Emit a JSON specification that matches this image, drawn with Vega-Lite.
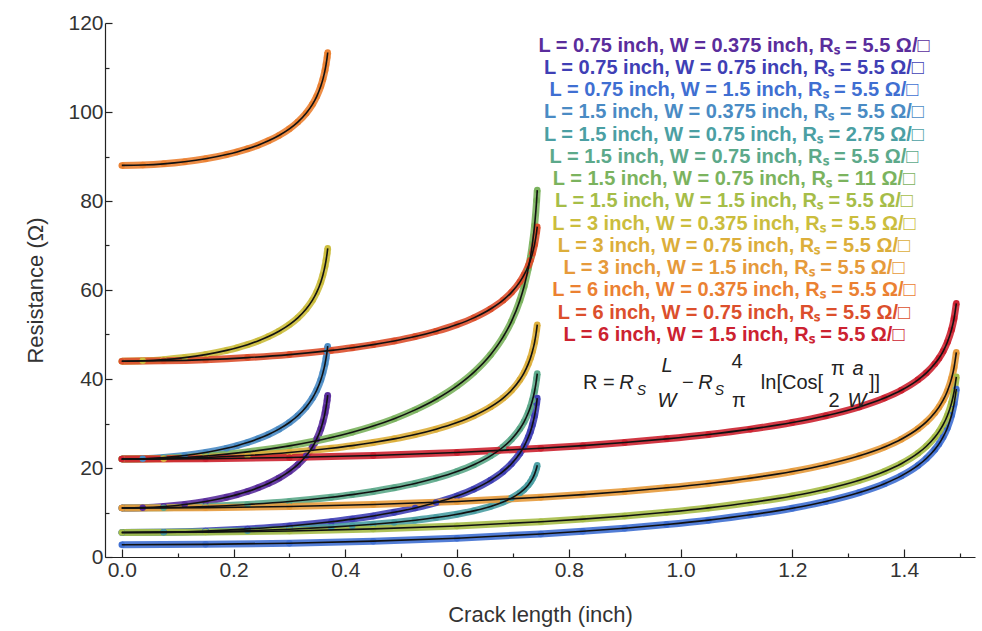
{
"$schema":"https://vega.github.io/schema/vega-lite/v6.json",
"width":870,"height":534,
"autosize":"none",
"padding":{"left":105,"top":23,"right":7,"bottom":74},
"background":"white",
"datasets":{
"pts":[
{"s":1,"a":0,"r":11},{"s":1,"a":0.0375,"r":11.09},{"s":1,"a":0.075,"r":11.35},{"s":1,"a":0.1125,"r":11.81},{"s":1,"a":0.15,"r":12.48},{"s":1,"a":0.1875,"r":13.43},{"s":1,"a":0.2063,"r":14.02},{"s":1,"a":0.225,"r":14.72},{"s":1,"a":0.2438,"r":15.55},{"s":1,"a":0.2625,"r":16.53},{"s":1,"a":0.2813,"r":17.73},{"s":1,"a":0.3,"r":19.22},{"s":1,"a":0.315,"r":20.74},{"s":1,"a":0.33,"r":22.73},{"s":1,"a":0.3413,"r":24.72},{"s":1,"a":0.3488,"r":26.47},{"s":1,"a":0.3563,"r":28.82},{"s":1,"a":0.36,"r":30.38},{"s":1,"a":0.3638,"r":32.4},{"s":1,"a":0.3656,"r":33.67},{"s":1,"a":0.3675,"r":35.23},{"s":1,"a":0.3686,"r":36.37},
{"s":2,"a":0,"r":5.5},{"s":2,"a":0.075,"r":5.59},{"s":2,"a":0.15,"r":5.85},{"s":2,"a":0.225,"r":6.31},{"s":2,"a":0.3,"r":6.98},{"s":2,"a":0.375,"r":7.93},{"s":2,"a":0.4125,"r":8.52},{"s":2,"a":0.45,"r":9.22},{"s":2,"a":0.4875,"r":10.05},{"s":2,"a":0.525,"r":11.03},{"s":2,"a":0.5625,"r":12.23},{"s":2,"a":0.6,"r":13.72},{"s":2,"a":0.63,"r":15.24},{"s":2,"a":0.66,"r":17.23},{"s":2,"a":0.6825,"r":19.22},{"s":2,"a":0.6975,"r":20.97},{"s":2,"a":0.7125,"r":23.32},{"s":2,"a":0.72,"r":24.88},{"s":2,"a":0.7275,"r":26.9},{"s":2,"a":0.7313,"r":28.17},{"s":2,"a":0.735,"r":29.73},{"s":2,"a":0.7388,"r":31.75},{"s":2,"a":0.7425,"r":34.59},{"s":2,"a":0.7436,"r":35.72},
{"s":3,"a":0,"r":2.75},{"s":3,"a":0.15,"r":2.84},{"s":3,"a":0.3,"r":3.1},{"s":3,"a":0.45,"r":3.56},{"s":3,"a":0.6,"r":4.23},{"s":3,"a":0.75,"r":5.18},{"s":3,"a":0.825,"r":5.77},{"s":3,"a":0.9,"r":6.47},{"s":3,"a":0.975,"r":7.3},{"s":3,"a":1.05,"r":8.28},{"s":3,"a":1.125,"r":9.48},{"s":3,"a":1.2,"r":10.97},{"s":3,"a":1.26,"r":12.49},{"s":3,"a":1.32,"r":14.48},{"s":3,"a":1.365,"r":16.47},{"s":3,"a":1.395,"r":18.22},{"s":3,"a":1.425,"r":20.57},{"s":3,"a":1.44,"r":22.13},{"s":3,"a":1.455,"r":24.15},{"s":3,"a":1.4625,"r":25.42},{"s":3,"a":1.47,"r":26.98},{"s":3,"a":1.4775,"r":29},{"s":3,"a":1.485,"r":31.84},{"s":3,"a":1.4895,"r":34.33},{"s":3,"a":1.4936,"r":37.75},
{"s":4,"a":0,"r":22},{"s":4,"a":0.0375,"r":22.09},{"s":4,"a":0.075,"r":22.35},{"s":4,"a":0.1125,"r":22.81},{"s":4,"a":0.15,"r":23.48},{"s":4,"a":0.1875,"r":24.43},{"s":4,"a":0.2063,"r":25.02},{"s":4,"a":0.225,"r":25.72},{"s":4,"a":0.2438,"r":26.55},{"s":4,"a":0.2625,"r":27.53},{"s":4,"a":0.2813,"r":28.73},{"s":4,"a":0.3,"r":30.22},{"s":4,"a":0.315,"r":31.74},{"s":4,"a":0.33,"r":33.73},{"s":4,"a":0.3413,"r":35.72},{"s":4,"a":0.3488,"r":37.47},{"s":4,"a":0.3563,"r":39.82},{"s":4,"a":0.36,"r":41.38},{"s":4,"a":0.3638,"r":43.4},{"s":4,"a":0.3656,"r":44.67},{"s":4,"a":0.3675,"r":46.23},{"s":4,"a":0.3686,"r":47.37},
{"s":5,"a":0,"r":5.5},{"s":5,"a":0.075,"r":5.54},{"s":5,"a":0.15,"r":5.68},{"s":5,"a":0.225,"r":5.9},{"s":5,"a":0.3,"r":6.24},{"s":5,"a":0.375,"r":6.71},{"s":5,"a":0.4125,"r":7.01},{"s":5,"a":0.45,"r":7.36},{"s":5,"a":0.4875,"r":7.77},{"s":5,"a":0.525,"r":8.27},{"s":5,"a":0.5625,"r":8.86},{"s":5,"a":0.6,"r":9.61},{"s":5,"a":0.63,"r":10.37},{"s":5,"a":0.66,"r":11.36},{"s":5,"a":0.6825,"r":12.36},{"s":5,"a":0.6975,"r":13.24},{"s":5,"a":0.7125,"r":14.41},{"s":5,"a":0.72,"r":15.19},{"s":5,"a":0.7275,"r":16.2},{"s":5,"a":0.7313,"r":16.84},{"s":5,"a":0.735,"r":17.62},{"s":5,"a":0.7388,"r":18.62},{"s":5,"a":0.7425,"r":20.04},{"s":5,"a":0.7436,"r":20.61},
{"s":6,"a":0,"r":11},{"s":6,"a":0.075,"r":11.09},{"s":6,"a":0.15,"r":11.35},{"s":6,"a":0.225,"r":11.81},{"s":6,"a":0.3,"r":12.48},{"s":6,"a":0.375,"r":13.43},{"s":6,"a":0.4125,"r":14.02},{"s":6,"a":0.45,"r":14.72},{"s":6,"a":0.4875,"r":15.55},{"s":6,"a":0.525,"r":16.53},{"s":6,"a":0.5625,"r":17.73},{"s":6,"a":0.6,"r":19.22},{"s":6,"a":0.63,"r":20.74},{"s":6,"a":0.66,"r":22.73},{"s":6,"a":0.6825,"r":24.72},{"s":6,"a":0.6975,"r":26.47},{"s":6,"a":0.7125,"r":28.82},{"s":6,"a":0.72,"r":30.38},{"s":6,"a":0.7275,"r":32.4},{"s":6,"a":0.7313,"r":33.67},{"s":6,"a":0.735,"r":35.23},{"s":6,"a":0.7388,"r":37.25},{"s":6,"a":0.7425,"r":40.09},{"s":6,"a":0.7436,"r":41.22},
{"s":7,"a":0,"r":22},{"s":7,"a":0.075,"r":22.17},{"s":7,"a":0.15,"r":22.7},{"s":7,"a":0.225,"r":23.62},{"s":7,"a":0.3,"r":24.97},{"s":7,"a":0.375,"r":26.85},{"s":7,"a":0.4125,"r":28.05},{"s":7,"a":0.45,"r":29.44},{"s":7,"a":0.4875,"r":31.09},{"s":7,"a":0.525,"r":33.06},{"s":7,"a":0.5625,"r":35.45},{"s":7,"a":0.6,"r":38.45},{"s":7,"a":0.63,"r":41.49},{"s":7,"a":0.66,"r":45.45},{"s":7,"a":0.6825,"r":49.45},{"s":7,"a":0.6975,"r":52.95},{"s":7,"a":0.7125,"r":57.65},{"s":7,"a":0.72,"r":60.77},{"s":7,"a":0.7275,"r":64.79},{"s":7,"a":0.7313,"r":67.34},{"s":7,"a":0.735,"r":70.47},{"s":7,"a":0.7388,"r":74.5},{"s":7,"a":0.7425,"r":80.17},{"s":7,"a":0.7436,"r":82.45},
{"s":8,"a":0,"r":5.5},{"s":8,"a":0.15,"r":5.59},{"s":8,"a":0.3,"r":5.85},{"s":8,"a":0.45,"r":6.31},{"s":8,"a":0.6,"r":6.98},{"s":8,"a":0.75,"r":7.93},{"s":8,"a":0.825,"r":8.52},{"s":8,"a":0.9,"r":9.22},{"s":8,"a":0.975,"r":10.05},{"s":8,"a":1.05,"r":11.03},{"s":8,"a":1.125,"r":12.23},{"s":8,"a":1.2,"r":13.72},{"s":8,"a":1.26,"r":15.24},{"s":8,"a":1.32,"r":17.23},{"s":8,"a":1.365,"r":19.22},{"s":8,"a":1.395,"r":20.97},{"s":8,"a":1.425,"r":23.32},{"s":8,"a":1.44,"r":24.88},{"s":8,"a":1.455,"r":26.9},{"s":8,"a":1.4625,"r":28.17},{"s":8,"a":1.47,"r":29.73},{"s":8,"a":1.4775,"r":31.75},{"s":8,"a":1.485,"r":34.59},{"s":8,"a":1.4895,"r":37.08},{"s":8,"a":1.4936,"r":40.5},
{"s":9,"a":0,"r":44},{"s":9,"a":0.0375,"r":44.09},{"s":9,"a":0.075,"r":44.35},{"s":9,"a":0.1125,"r":44.81},{"s":9,"a":0.15,"r":45.48},{"s":9,"a":0.1875,"r":46.43},{"s":9,"a":0.2063,"r":47.02},{"s":9,"a":0.225,"r":47.72},{"s":9,"a":0.2438,"r":48.55},{"s":9,"a":0.2625,"r":49.53},{"s":9,"a":0.2813,"r":50.73},{"s":9,"a":0.3,"r":52.22},{"s":9,"a":0.315,"r":53.74},{"s":9,"a":0.33,"r":55.73},{"s":9,"a":0.3413,"r":57.72},{"s":9,"a":0.3488,"r":59.47},{"s":9,"a":0.3563,"r":61.82},{"s":9,"a":0.36,"r":63.38},{"s":9,"a":0.3638,"r":65.4},{"s":9,"a":0.3656,"r":66.67},{"s":9,"a":0.3675,"r":68.23},{"s":9,"a":0.3686,"r":69.37},
{"s":10,"a":0,"r":22},{"s":10,"a":0.075,"r":22.09},{"s":10,"a":0.15,"r":22.35},{"s":10,"a":0.225,"r":22.81},{"s":10,"a":0.3,"r":23.48},{"s":10,"a":0.375,"r":24.43},{"s":10,"a":0.4125,"r":25.02},{"s":10,"a":0.45,"r":25.72},{"s":10,"a":0.4875,"r":26.55},{"s":10,"a":0.525,"r":27.53},{"s":10,"a":0.5625,"r":28.73},{"s":10,"a":0.6,"r":30.22},{"s":10,"a":0.63,"r":31.74},{"s":10,"a":0.66,"r":33.73},{"s":10,"a":0.6825,"r":35.72},{"s":10,"a":0.6975,"r":37.47},{"s":10,"a":0.7125,"r":39.82},{"s":10,"a":0.72,"r":41.38},{"s":10,"a":0.7275,"r":43.4},{"s":10,"a":0.7313,"r":44.67},{"s":10,"a":0.735,"r":46.23},{"s":10,"a":0.7388,"r":48.25},{"s":10,"a":0.7425,"r":51.09},{"s":10,"a":0.7436,"r":52.22},
{"s":11,"a":0,"r":11},{"s":11,"a":0.15,"r":11.09},{"s":11,"a":0.3,"r":11.35},{"s":11,"a":0.45,"r":11.81},{"s":11,"a":0.6,"r":12.48},{"s":11,"a":0.75,"r":13.43},{"s":11,"a":0.825,"r":14.02},{"s":11,"a":0.9,"r":14.72},{"s":11,"a":0.975,"r":15.55},{"s":11,"a":1.05,"r":16.53},{"s":11,"a":1.125,"r":17.73},{"s":11,"a":1.2,"r":19.22},{"s":11,"a":1.26,"r":20.74},{"s":11,"a":1.32,"r":22.73},{"s":11,"a":1.365,"r":24.72},{"s":11,"a":1.395,"r":26.47},{"s":11,"a":1.425,"r":28.82},{"s":11,"a":1.44,"r":30.38},{"s":11,"a":1.455,"r":32.4},{"s":11,"a":1.4625,"r":33.67},{"s":11,"a":1.47,"r":35.23},{"s":11,"a":1.4775,"r":37.25},{"s":11,"a":1.485,"r":40.09},{"s":11,"a":1.4895,"r":42.58},{"s":11,"a":1.4936,"r":46},
{"s":12,"a":0,"r":88},{"s":12,"a":0.0375,"r":88.09},{"s":12,"a":0.075,"r":88.35},{"s":12,"a":0.1125,"r":88.81},{"s":12,"a":0.15,"r":89.48},{"s":12,"a":0.1875,"r":90.43},{"s":12,"a":0.2063,"r":91.02},{"s":12,"a":0.225,"r":91.72},{"s":12,"a":0.2438,"r":92.55},{"s":12,"a":0.2625,"r":93.53},{"s":12,"a":0.2813,"r":94.73},{"s":12,"a":0.3,"r":96.22},{"s":12,"a":0.315,"r":97.74},{"s":12,"a":0.33,"r":99.73},{"s":12,"a":0.3413,"r":101.72},{"s":12,"a":0.3488,"r":103.47},{"s":12,"a":0.3563,"r":105.82},{"s":12,"a":0.36,"r":107.38},{"s":12,"a":0.3638,"r":109.4},{"s":12,"a":0.3656,"r":110.67},{"s":12,"a":0.3675,"r":112.23},{"s":12,"a":0.3686,"r":113.37},
{"s":13,"a":0,"r":44},{"s":13,"a":0.075,"r":44.09},{"s":13,"a":0.15,"r":44.35},{"s":13,"a":0.225,"r":44.81},{"s":13,"a":0.3,"r":45.48},{"s":13,"a":0.375,"r":46.43},{"s":13,"a":0.4125,"r":47.02},{"s":13,"a":0.45,"r":47.72},{"s":13,"a":0.4875,"r":48.55},{"s":13,"a":0.525,"r":49.53},{"s":13,"a":0.5625,"r":50.73},{"s":13,"a":0.6,"r":52.22},{"s":13,"a":0.63,"r":53.74},{"s":13,"a":0.66,"r":55.73},{"s":13,"a":0.6825,"r":57.72},{"s":13,"a":0.6975,"r":59.47},{"s":13,"a":0.7125,"r":61.82},{"s":13,"a":0.72,"r":63.38},{"s":13,"a":0.7275,"r":65.4},{"s":13,"a":0.7313,"r":66.67},{"s":13,"a":0.735,"r":68.23},{"s":13,"a":0.7388,"r":70.25},{"s":13,"a":0.7425,"r":73.09},{"s":13,"a":0.7436,"r":74.22},
{"s":14,"a":0,"r":22},{"s":14,"a":0.15,"r":22.09},{"s":14,"a":0.3,"r":22.35},{"s":14,"a":0.45,"r":22.81},{"s":14,"a":0.6,"r":23.48},{"s":14,"a":0.75,"r":24.43},{"s":14,"a":0.825,"r":25.02},{"s":14,"a":0.9,"r":25.72},{"s":14,"a":0.975,"r":26.55},{"s":14,"a":1.05,"r":27.53},{"s":14,"a":1.125,"r":28.73},{"s":14,"a":1.2,"r":30.22},{"s":14,"a":1.26,"r":31.74},{"s":14,"a":1.32,"r":33.73},{"s":14,"a":1.365,"r":35.72},{"s":14,"a":1.395,"r":37.47},{"s":14,"a":1.425,"r":39.82},{"s":14,"a":1.44,"r":41.38},{"s":14,"a":1.455,"r":43.4},{"s":14,"a":1.4625,"r":44.67},{"s":14,"a":1.47,"r":46.23},{"s":14,"a":1.4775,"r":48.25},{"s":14,"a":1.485,"r":51.09},{"s":14,"a":1.4895,"r":53.58},{"s":14,"a":1.4936,"r":57}
],
"leg":[
{"s":1,"t":"L = 0.75 inch, W = 0.375 inch, Rₛ = 5.5 Ω/□","a":1.0956,"r":114.9},
{"s":2,"t":"L = 0.75 inch, W = 0.75 inch, Rₛ = 5.5 Ω/□","a":1.0956,"r":109.9},
{"s":3,"t":"L = 0.75 inch, W = 1.5 inch, Rₛ = 5.5 Ω/□","a":1.0956,"r":104.9},
{"s":4,"t":"L = 1.5 inch, W = 0.375 inch, Rₛ = 5.5 Ω/□","a":1.0956,"r":99.9},
{"s":5,"t":"L = 1.5 inch, W = 0.75 inch, Rₛ = 2.75 Ω/□","a":1.0956,"r":94.9},
{"s":6,"t":"L = 1.5 inch, W = 0.75 inch, Rₛ = 5.5 Ω/□","a":1.0956,"r":89.9},
{"s":7,"t":"L = 1.5 inch, W = 0.75 inch, Rₛ = 11 Ω/□","a":1.0956,"r":84.9},
{"s":8,"t":"L = 1.5 inch, W = 1.5 inch, Rₛ = 5.5 Ω/□","a":1.0956,"r":79.9},
{"s":9,"t":"L = 3 inch, W = 0.375 inch, Rₛ = 5.5 Ω/□","a":1.0956,"r":74.9},
{"s":10,"t":"L = 3 inch, W = 0.75 inch, Rₛ = 5.5 Ω/□","a":1.0956,"r":69.9},
{"s":11,"t":"L = 3 inch, W = 1.5 inch, Rₛ = 5.5 Ω/□","a":1.0956,"r":64.9},
{"s":12,"t":"L = 6 inch, W = 0.375 inch, Rₛ = 5.5 Ω/□","a":1.0956,"r":59.9},
{"s":13,"t":"L = 6 inch, W = 0.75 inch, Rₛ = 5.5 Ω/□","a":1.0956,"r":54.9},
{"s":14,"t":"L = 6 inch, W = 1.5 inch, Rₛ = 5.5 Ω/□","a":1.0956,"r":49.9}
],
"eqn":[
{"t":"R =","a":0.8539,"r":39.1},{"t":"−","a":1.0132,"r":39.1},{"t":"4","a":1.101,"r":43.8},{"t":"π","a":1.1046,"r":35.1},{"t":"ln[Cos[","a":1.1994,"r":39.1},{"t":"π","a":1.2818,"r":42.2},{"t":"2","a":1.2746,"r":35.1},{"t":"]]","a":1.3471,"r":39.1}
],
"eqi":[
{"t":"R","a":0.9032,"r":39.1},{"t":"L","a":0.9757,"r":42.9},{"t":"W","a":0.9757,"r":35.1},{"t":"R","a":1.0446,"r":39.1},{"t":"a","a":1.3176,"r":42.2},{"t":"W","a":1.3158,"r":35.1}
],
"eqs":[
{"t":"S","a":0.93,"r":37.3},{"t":"S","a":1.0696,"r":37.3}
]
},
"layer":[
{"data":{"name":"pts"},
 "mark":{"type":"line","strokeWidth":7,"interpolate":"monotone","opacity":0.9},
 "encoding":{
  "x":{"field":"a","type":"quantitative","scale":{"domain":[-0.03,1.527],"nice":false,"zero":false},
   "axis":{"title":"Crack length (inch)","grid":false,
    "values":[0,0.05,0.1,0.15,0.2,0.25,0.3,0.35,0.4,0.45,0.5,0.55,0.6,0.65,0.7,0.75,0.8,0.85,0.9,0.95,1,1.05,1.1,1.15,1.2,1.25,1.3,1.35,1.4,1.45,1.5],
    "tickSize":{"condition":{"test":"abs(datum.value*5-round(datum.value*5))<0.001","value":-8},"value":-4},
    "labelExpr":"abs(datum.value*5-round(datum.value*5))<0.001 ? format(datum.value,'.1f') : ''",
    "labelPadding":10,"labelFlush":false,"labelOverlap":false,"titlePadding":20}},
  "y":{"field":"r","type":"quantitative","scale":{"domain":[0,120],"nice":false,"zero":false},
   "axis":{"title":"Resistance (Ω)","grid":false,
    "values":[0,5,10,15,20,25,30,35,40,45,50,55,60,65,70,75,80,85,90,95,100,105,110,115,120],
    "tickSize":{"condition":{"test":"datum.value%20==0","value":-7},"value":-4},
    "labelExpr":"datum.value%20==0 ? format(datum.value,'d') : ''",
    "labelPadding":9,"labelFlush":false,"labelOverlap":false,"titlePadding":20}},
  "color":{"field":"s","type":"nominal","legend":null,
   "scale":{"domain":[1,2,3,4,5,6,7,8,9,10,11,12,13,14],
    "range":["#5a2d9c","#3f3fb5","#3f6fd2","#4a8bc4","#4b9fa3","#5ca98a","#7bb35e","#a6bd48","#cbbd3d","#dcae3a","#e69a3b","#eb8132","#dc4f2c","#cc2230"]}}
 }},
{"data":{"name":"pts"},
 "mark":{"type":"point","filled":true,"size":42,"opacity":1},
 "encoding":{
  "x":{"field":"a","type":"quantitative"},
  "y":{"field":"r","type":"quantitative"},
  "color":{"field":"s","type":"nominal","legend":null}
 }},
{"data":{"name":"pts"},
 "mark":{"type":"line","color":"#111","strokeWidth":1.6,"interpolate":"monotone"},
 "encoding":{
  "x":{"field":"a","type":"quantitative"},
  "y":{"field":"r","type":"quantitative"},
  "detail":{"field":"s","type":"nominal"}
 }},
{"data":{"name":"leg"},
 "mark":{"type":"text","font":"Liberation Sans","fontWeight":"bold","fontSize":20,"align":"center","baseline":"middle"},
 "encoding":{
  "x":{"field":"a","type":"quantitative"},
  "y":{"field":"r","type":"quantitative"},
  "text":{"field":"t"},
  "color":{"field":"s","type":"nominal","legend":null}
 }},
{"data":{"name":"eqn"},
 "mark":{"type":"text","font":"Liberation Sans","fontSize":20,"align":"center","baseline":"middle","color":"#222"},
 "encoding":{
  "x":{"field":"a","type":"quantitative"},
  "y":{"field":"r","type":"quantitative"},
  "text":{"field":"t"}
 }},
{"data":{"name":"eqi"},
 "mark":{"type":"text","font":"Liberation Sans","fontSize":20,"fontStyle":"italic","align":"center","baseline":"middle","color":"#222"},
 "encoding":{
  "x":{"field":"a","type":"quantitative"},
  "y":{"field":"r","type":"quantitative"},
  "text":{"field":"t"}
 }},
{"data":{"name":"eqs"},
 "mark":{"type":"text","font":"Liberation Sans","fontSize":14,"fontStyle":"italic","align":"center","baseline":"middle","color":"#222"},
 "encoding":{
  "x":{"field":"a","type":"quantitative"},
  "y":{"field":"r","type":"quantitative"},
  "text":{"field":"t"}
 }}
],
"config":{
 "view":{"stroke":null},
 "axis":{"domainColor":"#222","tickColor":"#222","labelColor":"#333","titleColor":"#333",
  "labelFont":"Liberation Sans","titleFont":"Liberation Sans","labelFontSize":21,"titleFontSize":22,"titleFontWeight":"normal","tickWidth":1.2,"domainWidth":1.2}
}
}
